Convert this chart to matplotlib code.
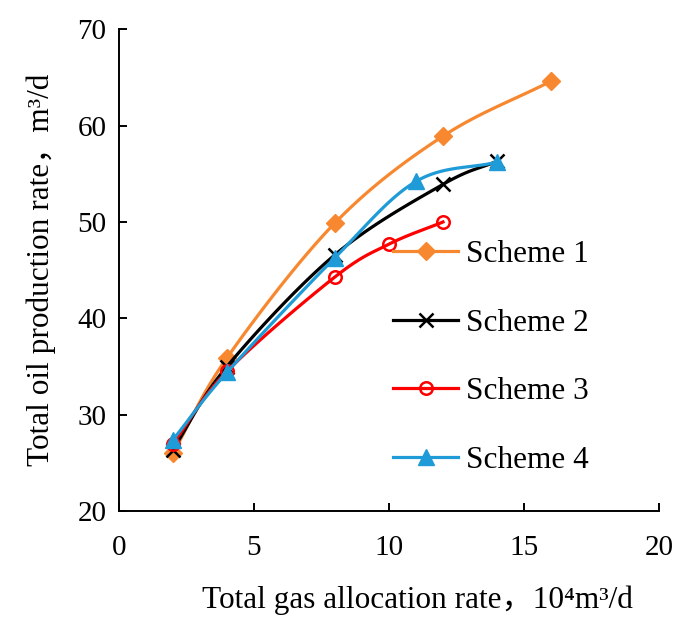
import numpy as np
import matplotlib
matplotlib.use('Agg')
import matplotlib.pyplot as plt

plt.rcParams['font.family'] = ['Liberation Serif', 'Noto Sans CJK SC']

# data
x1 = [2, 4, 8, 12, 16]
y1 = [26.0, 35.9, 49.9, 58.9, 64.6]
x2 = [2, 4, 8, 12, 14]
y2 = [26.4, 35.0, 46.6, 53.9, 56.3]
x3 = [2, 4, 8, 10, 12]
y3 = [27.0, 34.5, 44.3, 47.7, 50.0]
x4 = [2, 4, 8, 11, 14]
y4 = [27.4, 34.4, 46.3, 54.2, 56.2]
labels = ['Scheme 1', 'Scheme 2', 'Scheme 3', 'Scheme 4']


def smooth(x, y, n=30):
    # catmull-rom through the points, like excel's smoothed line
    x = np.asarray(x, float)
    y = np.asarray(y, float)
    px = np.concatenate([[2 * x[0] - x[1]], x, [2 * x[-1] - x[-2]]])
    py = np.concatenate([[2 * y[0] - y[1]], y, [2 * y[-1] - y[-2]]])
    ox, oy = [], []
    t = np.linspace(0, 1, n)
    for i in range(1, len(px) - 2):
        for p, out in ((px, ox), (py, oy)):
            p0, p1, p2, p3 = p[i - 1], p[i], p[i + 1], p[i + 2]
            c1 = p1 + (p2 - p0) / 6
            c2 = p2 - (p3 - p1) / 6
            out.extend((1 - t) ** 3 * p1 + 3 * (1 - t) ** 2 * t * c1
                       + 3 * (1 - t) * t ** 2 * c2 + t ** 3 * p2)
    return ox, oy


fig = plt.figure(figsize=(6.83, 6.19), dpi=100)
ax = fig.add_axes([0.174, 0.174, 0.791, 0.779])

series = [
    (x1, y1, '#F7882F', dict(marker='D', ms=9.5, mfc='#F7882F', mec='#F7882F')),
    (x2, y2, 'black', dict(marker='x', ms=10.5, mew=1.8, mec='black')),
    (x3, y3, '#FF0000', dict(marker='o', ms=9, mfc='none', mec='#FF0000', mew=1.8)),
    (x4, y4, '#1F9BD7', dict(marker='^', ms=11.5, mfc='#1F9BD7', mec='#1F9BD7')),
]

handles = []
for (xs, ys, c, mk), lab in zip(series, labels):
    sx, sy = smooth(xs, ys)
    ax.plot(sx, sy, color=c, lw=2.3)
    ax.plot(xs, ys, ls='none', **mk)
    h, = ax.plot([], [], color=c, lw=2.3, **mk)
    handles.append(h)

ax.set_xlim(0, 20)
ax.set_ylim(20, 70)
ax.set_xticks([0, 5, 10, 15, 20])
ax.set_yticks([20, 30, 40, 50, 60, 70])
ax.spines['top'].set_visible(False)
ax.spines['right'].set_visible(False)
ax.spines['left'].set_linewidth(1.4)
ax.spines['bottom'].set_linewidth(1.4)
ax.tick_params(direction='in', length=6, width=1.4, labelsize=21)
ax.tick_params(axis='x', pad=17)
ax.tick_params(axis='y', pad=9)

ax.set_xlabel('Total gas allocation rate，10⁴m³/d', fontsize=22.5, labelpad=18)
ax.xaxis.label.set_x(0.552)
ax.set_ylabel('Total oil production rate，m³/d', fontsize=22.5, labelpad=15)

fig.legend(handles, labels, loc='center left', bbox_to_anchor=(0.575, 0.4225),
           frameon=False, fontsize=22.5, handlelength=2.1, handletextpad=0.25,
           labelspacing=1.27, borderpad=0, borderaxespad=0)

fig.savefig('out.png', dpi=100)
